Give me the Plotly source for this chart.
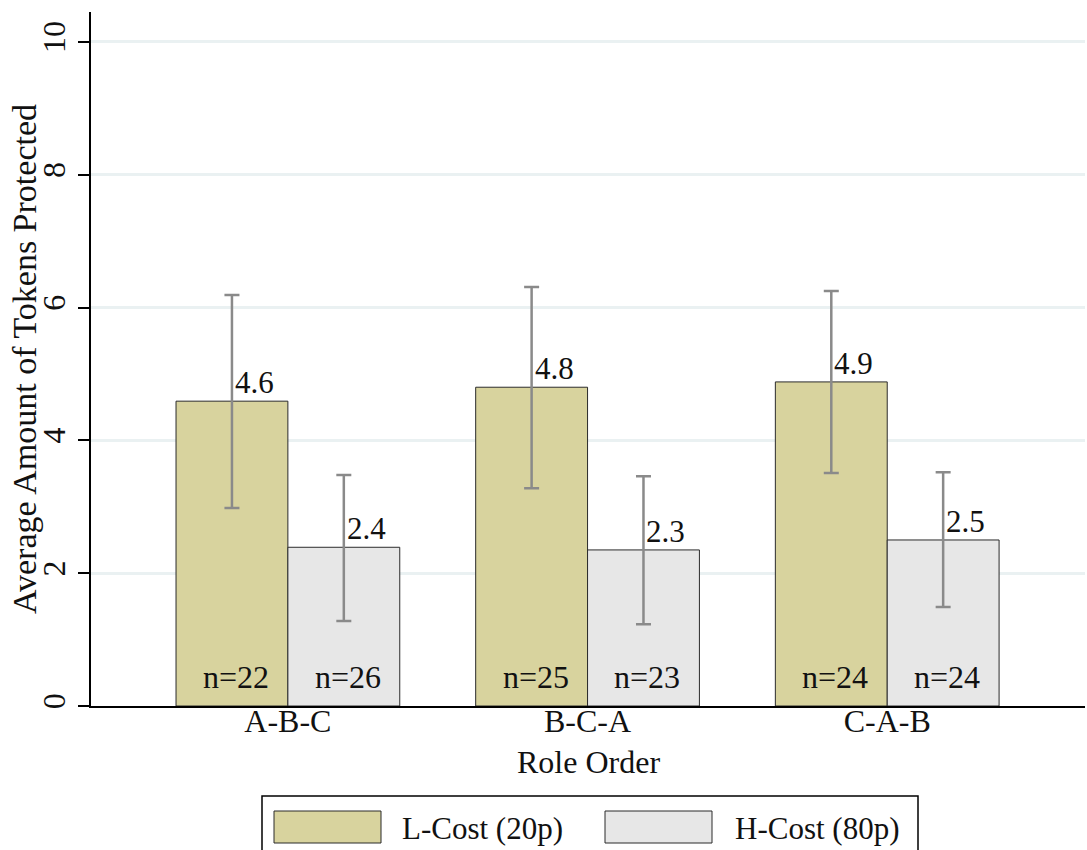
import plotly.graph_objects as go

categories = ["A-B-C", "B-C-A", "C-A-B"]
series_names = ["L-Cost (20p)", "H-Cost (80p)"]
l_means = [4.59, 4.80, 4.88]
h_means = [2.39, 2.35, 2.50]
l_ci_hi = [6.19, 6.31, 6.25]
l_ci_lo = [2.98, 3.28, 3.51]
h_ci_hi = [3.48, 3.46, 3.52]
h_ci_lo = [1.28, 1.23, 1.49]
l_labels = ["4.6", "4.8", "4.9"]
h_labels = ["2.4", "2.3", "2.5"]
l_n = [22, 25, 24]
h_n = [26, 23, 24]
y_title = "Average Amount of Tokens Protected"
x_title = "Role Order"

FONT = "Liberation Serif"
L_COLOR = "#D8D39E"
H_COLOR = "#E7E7E7"
ERR_COLOR = "#8A8A8A"
W = 0.3733

xs = list(range(len(categories)))

fig = go.Figure()
for name, means, hi, lo, color, off in [
    (series_names[0], l_means, l_ci_hi, l_ci_lo, L_COLOR, -W),
    (series_names[1], h_means, h_ci_hi, h_ci_lo, H_COLOR, 0.0),
]:
    fig.add_trace(go.Bar(
        x=xs, y=means, name=name, width=W, offset=off,
        marker=dict(color=color, line=dict(color="#2b2b2b", width=1)),
        error_y=dict(type="data", symmetric=False,
                     array=[h - m for h, m in zip(hi, means)],
                     arrayminus=[m - l for m, l in zip(means, lo)],
                     color=ERR_COLOR, thickness=2.5, width=7.5),
        showlegend=False,
    ))

annos = []
for i in xs:
    for means, labels, ns, ctr in [
        (l_means, l_labels, l_n, i - W / 2),
        (h_means, h_labels, h_n, i + W / 2),
    ]:
        annos.append(dict(x=ctr, y=means[i], text=labels[i], showarrow=False,
                          xanchor="left", yanchor="bottom", xshift=1, yshift=-1,
                          font=dict(family=FONT, size=31, color="#111")))
        annos.append(dict(x=ctr, y=0, text=f"n={ns[i]}", showarrow=False,
                          xanchor="center", yanchor="bottom", xshift=4, yshift=9,
                          font=dict(family=FONT, size=32, color="#111")))

# paper coordinates helpers (plot area: x 91..1085 px, y 12..706 px)
def px(xp):
    return (xp - 91) / 994.0
def py(yp):
    return (706 - yp) / 694.0

annos.append(dict(xref="paper", yref="paper", x=px(24), y=0.5, text=y_title,
                  textangle=-90, showarrow=False, xanchor="center", yanchor="middle",
                  font=dict(family=FONT, size=34, color="#111")))
annos.append(dict(xref="paper", yref="paper", x=0.5, y=py(762), text=x_title,
                  showarrow=False, xanchor="center", yanchor="middle",
                  font=dict(family=FONT, size=32, color="#111")))

shapes = [
    dict(type="rect", xref="paper", yref="paper", x0=px(262), x1=px(918),
         y0=py(870), y1=py(796), line=dict(color="black", width=1.5),
         fillcolor="white", layer="below"),
]
leg_items = [(series_names[0], L_COLOR, 274, 381, 400),
             (series_names[1], H_COLOR, 605, 712, 733)]
for name, color, x0, x1, tx in leg_items:
    shapes.append(dict(type="rect", xref="paper", yref="paper", x0=px(x0), x1=px(x1),
                       y0=py(843), y1=py(811), line=dict(color="#2b2b2b", width=1),
                       fillcolor=color))
    annos.append(dict(xref="paper", yref="paper", x=px(tx), y=py(828), text=name,
                      showarrow=False, xanchor="left", yanchor="middle",
                      font=dict(family=FONT, size=31, color="#111")))

fig.update_layout(
    width=1087, height=850,
    margin=dict(l=91, r=2, t=12, b=144, autoexpand=False),
    paper_bgcolor="white", plot_bgcolor="white",
    font=dict(family=FONT, size=32, color="#111"),
    barmode="overlay",
    shapes=shapes,
    annotations=annos,
    xaxis=dict(range=[-0.657, 2.66], tickvals=xs, ticktext=categories,
               ticks="", showgrid=False, zeroline=False, automargin=False,
               showline=True, linecolor="black", linewidth=2,
               ticklabelstandoff=-14,
               tickfont=dict(family=FONT, size=32)),
    yaxis=dict(range=[0, 10.45], tickvals=[0, 2, 4, 6, 8, 10],
               ticks="outside", ticklen=11, tickwidth=1.5, tickcolor="black",
               tickangle=-90, tickfont=dict(family=FONT, size=32, color="#111"),
               automargin=False,
               showgrid=True, gridcolor="#EAF1F2", gridwidth=2.5,
               zeroline=False, showline=True, linecolor="black", linewidth=2),
)

fig.write_html("out.html")
